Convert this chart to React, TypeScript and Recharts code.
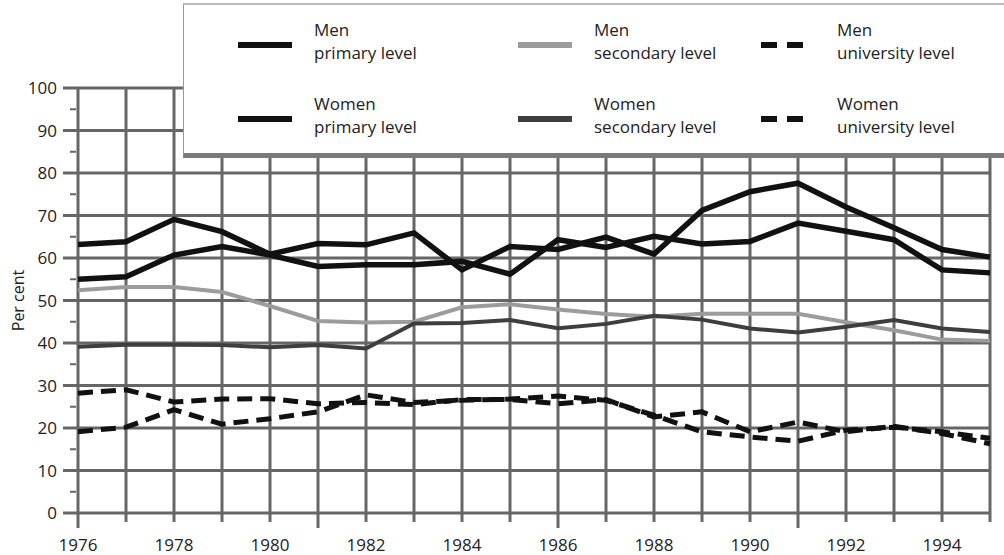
import React from 'react';
import { LineChart, Line, XAxis, YAxis, CartesianGrid } from 'recharts';

const years = [1976, 1977, 1978, 1979, 1980, 1981, 1982, 1983, 1984, 1985, 1986, 1987, 1988, 1989, 1990, 1991, 1992, 1993, 1994, 1995];
const menPrimary = [63.2, 63.8, 69.1, 66.2, 60.9, 63.4, 63.1, 65.9, 57.2, 62.7, 62.0, 64.9, 60.9, 71.2, 75.6, 77.6, 72.0, 67.1, 62.0, 60.2];
const womenPrimary = [55.0, 55.6, 60.7, 62.7, 60.7, 58.0, 58.4, 58.4, 59.2, 56.2, 64.3, 62.5, 65.1, 63.3, 63.9, 68.2, 66.3, 64.3, 57.2, 56.5];
const menSecondary = [52.4, 53.2, 53.2, 52.0, 48.7, 45.2, 44.8, 45.0, 48.4, 49.1, 47.9, 46.8, 46.2, 46.9, 46.9, 46.9, 44.9, 43.0, 40.8, 40.5];
const womenSecondary = [39.1, 39.6, 39.6, 39.5, 39.0, 39.5, 38.7, 44.6, 44.7, 45.4, 43.5, 44.5, 46.4, 45.5, 43.4, 42.5, 43.8, 45.4, 43.4, 42.6];
const menUniversity = [28.2, 29.0, 26.1, 26.8, 26.9, 25.7, 26.0, 25.5, 26.7, 26.7, 25.7, 26.7, 22.6, 23.8, 19.1, 21.4, 19.1, 20.4, 18.7, 16.3];
const womenUniversity = [19.1, 20.2, 24.3, 20.9, 22.2, 23.8, 27.8, 26.0, 26.5, 26.8, 27.5, 26.5, 23.0, 19.1, 17.9, 16.9, 19.5, 20.2, 19.1, 17.6];

const yTicks = [0, 5, 10, 15, 20, 25, 30, 35, 40, 45, 50, 55, 60, 65, 70, 75, 80, 85, 90, 95, 100];
const yGrid = [0, 10, 20, 30, 40, 50, 60, 70, 80, 90, 100];
const yAxisLabel = 'Per cent';

const data = years.map((y, i) => ({
  year: y,
  menPrimary: menPrimary[i],
  womenPrimary: womenPrimary[i],
  menSecondary: menSecondary[i],
  womenSecondary: womenSecondary[i],
  menUniversity: menUniversity[i],
  womenUniversity: womenUniversity[i],
}));

const FONT = '"Open Sans", "Liberation Sans", sans-serif';
const GRID = '#666';

const XTick = (props: any) => {
  const { x, y, payload } = props;
  const v = payload.value as number;
  const long = (v - 1976) % 5 === 0;
  const len = long ? 15 : 9;
  return (
    <g>
      <line x1={x} x2={x} y1={y} y2={y + len} stroke={GRID} strokeWidth={3} />
      {v % 2 === 0 && (
        <text x={x} y={y + 38} textAnchor="middle" fontSize={17} fontFamily={FONT} fill="#222">
          {v}
        </text>
      )}
    </g>
  );
};

const YTick = (props: any) => {
  const { x, y, payload } = props;
  const v = payload.value as number;
  if (v % 10 !== 0) {
    return <line x1={x - 8} x2={x - 2} y1={y} y2={y} stroke={GRID} strokeWidth={2} />;
  }
  return (
    <g>
      <line x1={x - 15} x2={x} y1={y} y2={y} stroke={GRID} strokeWidth={3} />
      <text x={x - 21} y={y} dy={6} textAnchor="end" fontSize={17} fontFamily={FONT} fill="#222">
        {v}
      </text>
    </g>
  );
};

const legendItems = [
  { l1: 'Men', l2: 'primary level', kind: 'black' },
  { l1: 'Men', l2: 'secondary level', kind: 'light' },
  { l1: 'Men', l2: 'university level', kind: 'dash' },
  { l1: 'Women', l2: 'primary level', kind: 'black' },
  { l1: 'Women', l2: 'secondary level', kind: 'dark' },
  { l1: 'Women', l2: 'university level', kind: 'dash' },
];

const Sample = ({ kind }: { kind: string }) => {
  if (kind === 'dash') {
    return (
      <svg width={56} height={10} style={{ display: 'block' }}>
        <line x1={0} x2={42} y1={5} y2={5} stroke="#111" strokeWidth={6} strokeDasharray="16 10" />
      </svg>
    );
  }
  const color = kind === 'black' ? '#111' : kind === 'light' ? '#9c9c9c' : '#3e3e3e';
  return (
    <svg width={56} height={10} style={{ display: 'block' }}>
      <line x1={0} x2={54} y1={5} y2={5} stroke={color} strokeWidth={6} />
    </svg>
  );
};

const colX = [54, 334, 577];

export default function App() {
  return (
    <div style={{ position: 'relative', width: 1004, height: 555, background: '#fff', overflow: 'hidden' }}>
      <style>{'body{margin:0;}'}</style>
      <LineChart width={1004} height={555} data={data} margin={{ top: 88, right: 14, bottom: 12, left: 8 }}>
        <CartesianGrid
          stroke={GRID}
          strokeWidth={3}
          horizontalValues={yGrid}
          verticalValues={years}
        />
        <XAxis
          dataKey="year"
          type="number"
          domain={[1976, 1995]}
          ticks={years}
          interval={0}
          height={30}
          tickSize={0}
          tickMargin={0}
          axisLine={false}
          tickLine={false}
          tick={<XTick />}
        />
        <YAxis
          type="number"
          domain={[0, 100]}
          ticks={yTicks}
          interval={0}
          width={70}
          tickSize={0}
          tickMargin={0}
          axisLine={false}
          tickLine={false}
          tick={<YTick />}
          label={(p: any) => {
            const vb = p.viewBox || { x: 8, y: 88, height: 425 };
            const cx = vb.x + 10;
            const cy = vb.y + vb.height / 2;
            return (
              <text
                x={cx}
                y={cy}
                transform={`rotate(-90, ${cx}, ${cy})`}
                textAnchor="middle"
                dominantBaseline="central"
                fontSize={16}
                fontFamily={FONT}
                fill="#222"
              >
                {yAxisLabel}
              </text>
            );
          }}
        />
        <Line type="linear" dataKey="menSecondary" stroke="#9c9c9c" strokeWidth={4} dot={false} isAnimationActive={false} />
        <Line type="linear" dataKey="womenSecondary" stroke="#3e3e3e" strokeWidth={4} dot={false} isAnimationActive={false} />
        <Line type="linear" dataKey="menUniversity" stroke="#111" strokeWidth={5} strokeDasharray="15 8" dot={false} isAnimationActive={false} />
        <Line type="linear" dataKey="womenUniversity" stroke="#111" strokeWidth={5} strokeDasharray="15 8" dot={false} isAnimationActive={false} />
        <Line type="linear" dataKey="menPrimary" stroke="#111" strokeWidth={5.5} dot={false} isAnimationActive={false} />
        <Line type="linear" dataKey="womenPrimary" stroke="#111" strokeWidth={5.5} dot={false} isAnimationActive={false} />
      </LineChart>
      <div
        style={{
          position: 'absolute',
          left: 183,
          top: 3,
          width: 822,
          height: 148,
          background: '#fff',
          borderTop: '2px solid #bbb',
          borderLeft: '1px solid #999',
          borderBottom: '5px solid #7a7a7a',
          boxSizing: 'content-box',
        }}
      >
        {legendItems.map((it, i) => {
          const col = i % 3;
          const row = Math.floor(i / 3);
          const top = row === 0 ? 13 : 87;
          return (
            <div key={i} style={{ position: 'absolute', left: colX[col], top }}>
              <div style={{ position: 'absolute', left: 0, top: 22 }}>
                <Sample kind={it.kind} />
              </div>
              <div
                style={{
                  position: 'absolute',
                  left: 76,
                  top: 0,
                  whiteSpace: 'nowrap',
                  fontFamily: FONT,
                  fontSize: 17,
                  lineHeight: '23px',
                  color: '#222',
                }}
              >
                {it.l1}
                <br />
                {it.l2}
              </div>
            </div>
          );
        })}
      </div>
    </div>
  );
}
